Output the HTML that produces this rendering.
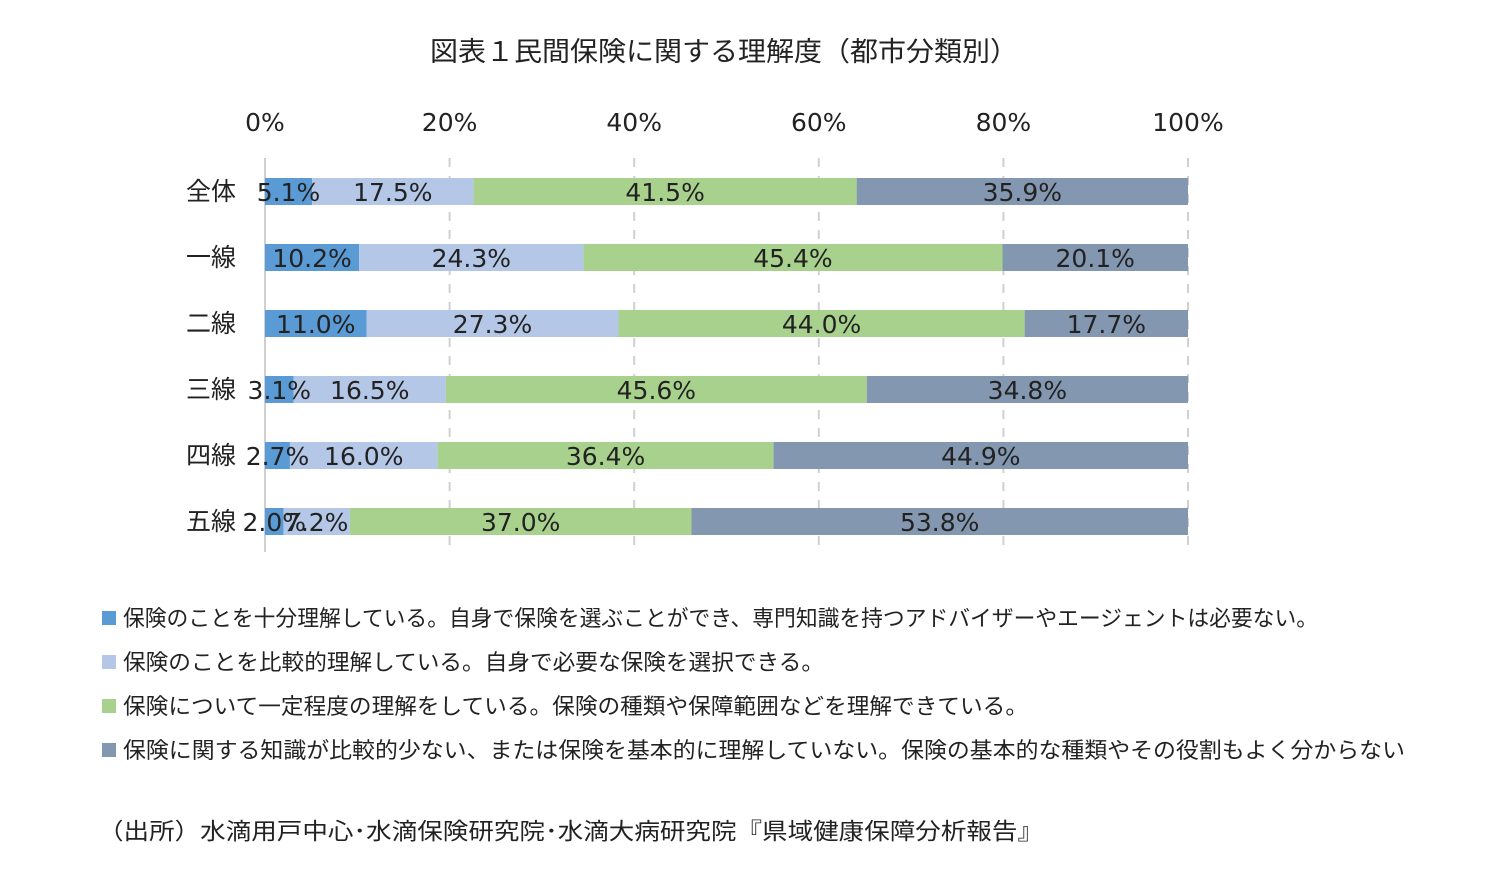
<!DOCTYPE html>
<html><head><meta charset="utf-8"><style>
body{margin:0;background:#fff;width:1493px;height:878px;overflow:hidden}
svg text{font-family:"Liberation Sans","Noto Sans CJK JP",sans-serif;fill:#222}
.num{font-family:"DejaVu Sans","Noto Sans CJK JP",sans-serif}
</style></head><body>
<svg id="chart" width="1493" height="878">
<text x="430" y="61" font-size="27" textLength="588" lengthAdjust="spacingAndGlyphs">図表１民間保険に関する理解度（都市分類別）</text>
<g id="grid"></g><g id="bars"></g><g id="legend"></g>
<text x="98" y="839" font-size="23" textLength="945" lengthAdjust="spacingAndGlyphs">（出所）水滴用戸中心･水滴保険研究院･水滴大病研究院『県域健康保障分析報告』</text>
</svg>
<script>
const categories=["全体","一線","二線","三線","四線","五線"];
const s1=[5.1,10.2,11.0,3.1,2.7,2.0];
const s2=[17.5,24.3,27.3,16.5,16.0,7.2];
const s3=[41.5,45.4,44.0,45.6,36.4,37.0];
const s4=[35.9,20.1,17.7,34.8,44.9,53.8];
const ticks=[0,20,40,60,80,100];
const legendLabels=["保険のことを十分理解している。自身で保険を選ぶことができ、専門知識を持つアドバイザーやエージェントは必要ない。","保険のことを比較的理解している。自身で必要な保険を選択できる。","保険について一定程度の理解をしている。保険の種類や保障範囲などを理解できている。","保険に関する知識が比較的少ない、または保険を基本的に理解していない。保険の基本的な種類やその役割もよく分からない"];
const legendWidths=[1195,701,905,1282];
const colors=["#5b9bd5","#b4c7e7","#a9d18e","#8497b0"];
const NS="http://www.w3.org/2000/svg";
const x=v=>265+v*9.23;
const y=i=>191+i*66;
function mk(tag,attrs,parent,txt){const e=document.createElementNS(NS,tag);for(const k in attrs)e.setAttribute(k,attrs[k]);if(txt!=null)e.textContent=txt;parent.appendChild(e);return e;}
const grid=document.getElementById('grid'),bars=document.getElementById('bars'),legend=document.getElementById('legend');
ticks.forEach(t=>{
 const l=mk('line',{x1:x(t),x2:x(t),y1:158,y2:552,stroke:'#d0d0d0','stroke-width':2,'stroke-dasharray':t===0?'none':'9,9'},grid);
 
 
 const tx=mk('text',{x:x(t),y:131,'font-size':25,'text-anchor':'middle',class:'num'},grid,t+'%');
 
 
});
const series=[s1,s2,s3,s4];
categories.forEach((c,i)=>{
 const cl=mk('text',{x:186,y:y(i)+9,'font-size':25},bars,c);
 
 
 let acc=0;
 series.forEach((s,k)=>{
  const v=s[i];
  const r=mk('rect',{x:x(acc),y:y(i)-13,width:v*9.23,height:27,fill:colors[k]},bars);
  
  
  acc+=v;
 });
 acc=0;
 series.forEach((s,k)=>{
  const v=s[i];
  const t=mk('text',{x:x(acc+v/2),y:y(i)+10,'font-size':25,'text-anchor':'middle',class:'num'},bars,v.toFixed(1)+'%');
  
  
  acc+=v;
 });
});
legendLabels.forEach((lab,k)=>{
 const ly=618+k*44;
 const sq=mk('rect',{x:102,y:ly-7,width:14,height:14,fill:colors[k]},legend);
 
 
 const t=mk('text',{x:123,y:ly+8,'font-size':22,textLength:legendWidths[k],lengthAdjust:'spacingAndGlyphs'},legend,lab);
 
 
});
</script>
</body></html>
